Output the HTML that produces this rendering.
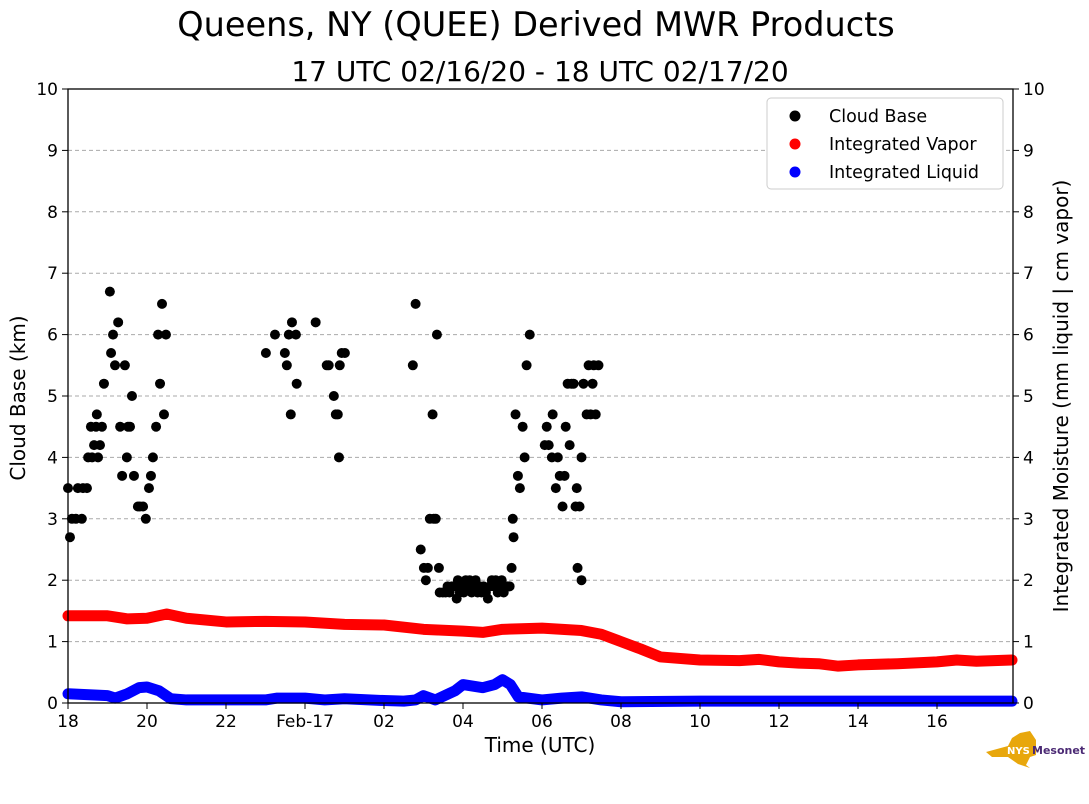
<!DOCTYPE html>
<html><head><meta charset="utf-8"><style>
body{margin:0;background:#fff;}
svg{display:block;font-family:"DejaVu Sans","Liberation Sans",sans-serif;}
</style></head><body>
<svg id="chart" width="1089" height="804">
<text x="536" y="36" font-size="33.5" text-anchor="middle">Queens, NY (QUEE) Derived MWR Products</text>
<text x="540" y="81" font-size="28" text-anchor="middle">17 UTC 02/16/20 - 18 UTC 02/17/20</text>
<g id="grid"></g><g id="series"></g><g id="axes"></g>
<text transform="translate(25,398) rotate(-90)" font-size="20" text-anchor="middle">Cloud Base (km)</text>
<text transform="translate(1068,396) rotate(-90)" font-size="20" text-anchor="middle">Integrated Moisture (mm liquid | cm vapor)</text>
<text x="540" y="752" font-size="20" text-anchor="middle">Time (UTC)</text>
<g>
<rect x="767" y="98" width="236" height="91" rx="4" fill="#fff" stroke="#ccc"/>
<circle cx="795" cy="116" r="5.5" fill="#000"/><text x="829" y="122" font-size="17.5">Cloud Base</text>
<circle cx="795" cy="144" r="5.5" fill="red"/><text x="829" y="150" font-size="17.5">Integrated Vapor</text>
<circle cx="795" cy="172" r="5.5" fill="blue"/><text x="829" y="178" font-size="17.5">Integrated Liquid</text>
</g>
<g>
<path d="M986,752 L1008,746 L1012,738 L1020,733 L1030,731 L1036,740 L1036,755 L1030,757 L1026,765 L1030,768 L1018,764 L1008,757 L992,757 Z" fill="#e8a70c"/>
<text x="1007" y="754" font-size="10" font-weight="bold" fill="#fff">NYS</text>
<text x="1032" y="754" font-size="11" font-weight="bold" fill="#4b2a74">Mesonet</text>
</g>
</svg>
<script>
const cbTime=[0,.05,.1,.2,.25,.35,.38,.48,.51,.58,.61,.66,.71,.73,.76,.81,.86,.91,1.06,1.09,1.14,1.19,1.27,1.32,1.37,1.44,1.49,1.52,1.57,1.62,1.67,1.77,1.82,1.9,1.97,2.05,2.1,2.15,2.23,2.28,2.33,2.38,2.43,2.48,
5.01,5.24,5.49,5.54,5.59,5.64,5.67,5.77,5.79,6.27,6.55,6.6,6.73,6.78,6.83,6.86,6.88,6.93,7.01,
8.73,8.8,8.93,9.01,9.06,9.11,9.16,9.23,9.26,9.31,9.34,9.39,
9.41,9.49,9.56,9.61,9.66,9.72,9.79,9.84,9.87,9.92,9.97,10.02,10.07,10.12,10.17,10.22,10.27,10.32,10.37,10.42,10.47,10.52,10.58,10.63,10.68,10.73,10.78,10.83,10.88,10.93,10.98,11.03,11.08,11.13,11.18,
11.23,11.26,11.28,11.33,11.39,11.44,11.51,11.56,11.61,11.69,12.07,12.12,12.17,12.25,12.27,12.35,12.4,12.45,12.52,12.57,12.6,12.65,12.7,12.75,12.8,12.85,12.88,12.9,12.95,13.0,13.0,13.05,13.13,13.18,13.23,13.28,13.31,13.36,13.43];
const cbVal=[3.5,2.7,3.0,3.0,3.5,3.0,3.5,3.5,4.0,4.5,4.0,4.2,4.5,4.7,4.0,4.2,4.5,5.2,6.7,5.7,6.0,5.5,6.2,4.5,3.7,5.5,4.0,4.5,4.5,5.0,3.7,3.2,3.2,3.2,3.0,3.5,3.7,4.0,4.5,6.0,5.2,6.5,4.7,6.0,
5.7,6.0,5.7,5.5,6.0,4.7,6.2,6.0,5.2,6.2,5.5,5.5,5.0,4.7,4.7,4.0,5.5,5.7,5.7,
5.5,6.5,2.5,2.2,2.0,2.2,3.0,4.7,3.0,3.0,6.0,2.2,
1.8,1.8,1.8,1.9,1.8,1.9,1.9,1.7,2.0,1.8,1.9,1.8,2.0,1.9,2.0,1.8,1.9,2.0,1.8,1.9,1.8,1.9,1.8,1.7,1.9,2.0,1.9,2.0,1.8,1.9,2.0,1.8,1.9,1.9,1.9,
2.2,3.0,2.7,4.7,3.7,3.5,4.5,4.0,5.5,6.0,4.2,4.5,4.2,4.0,4.7,3.5,4.0,3.7,3.2,3.7,4.5,5.2,4.2,5.2,5.2,3.2,3.5,2.2,3.2,2.0,4.0,5.2,4.7,5.5,4.7,5.2,5.5,4.7,5.5];
const vapTime=[0,1,1.5,2,2.5,3,4,5,6,7,8,9,10,10.5,11,12,13,13.5,14,14.5,15,16,17,17.5,18,18.5,19,19.5,20,21,22,22.5,23,23.9];
const vapVal=[1.42,1.42,1.37,1.38,1.45,1.38,1.32,1.33,1.32,1.28,1.27,1.2,1.17,1.15,1.2,1.22,1.18,1.12,1.0,0.88,0.75,0.7,0.69,0.71,0.67,0.65,0.64,0.6,0.62,0.64,0.67,0.7,0.68,0.7];
const liqTime=[0,1,1.2,1.5,1.8,2,2.3,2.6,3,4,5,5.3,6,6.5,7,8,8.5,8.8,9,9.3,9.8,10,10.5,10.8,11,11.2,11.4,12,12.5,13,13.5,14,16,23.9];
const liqVal=[0.15,0.12,0.08,0.15,0.25,0.26,0.2,0.07,0.05,0.05,0.05,0.08,0.08,0.05,0.07,0.04,0.03,0.05,0.12,0.05,0.2,0.3,0.25,0.3,0.38,0.3,0.1,0.05,0.08,0.1,0.05,0.02,0.03,0.03];
const xTicks=[0,2,4,6,8,10,12,14,16,18,20,22];
const xTickLabels=["18","20","22","Feb-17","02","04","06","08","10","12","14","16"];
const yTicks=[0,1,2,3,4,5,6,7,8,9,10];
const NS="http://www.w3.org/2000/svg";
const L=68,R=1013,T=89,B=703;
const X=h=>L+h*39.5, Y=v=>B-v*(B-T)/10;
function mk(tag,attrs,parent){const e=document.createElementNS(NS,tag);for(const k in attrs)e.setAttribute(k,attrs[k]);parent.appendChild(e);return e;}
const grid=document.getElementById('grid'),ser=document.getElementById('series'),ax=document.getElementById('axes');
yTicks.forEach(v=>{
  if(v>0&&v<10){const g=mk('line',{x1:L,x2:R,y1:Y(v),y2:Y(v),stroke:'#aaa','stroke-dasharray':'4,3','stroke-width':1},grid);
  
  }
  [[L,-1,'end',-8],[R,1,'start',8]].forEach(([x0,d,anc,off])=>{
    mk('line',{x1:x0,x2:x0+d*6,y1:Y(v),y2:Y(v),stroke:'#000'},ax);
    const t=mk('text',{x:x0+off+d*2,y:Y(v)+6,'font-size':17,'text-anchor':anc},ax);t.textContent=v;
    
    
  });
});
xTicks.forEach((h,i)=>{
  mk('line',{x1:X(h),x2:X(h),y1:B,y2:B+6,stroke:'#000'},ax);
  const t=mk('text',{x:X(h),y:B+24,'font-size':17,'text-anchor':'middle'},ax);t.textContent=xTickLabels[i];
  
  
});
mk('rect',{x:L,y:T,width:R-L,height:B-T,fill:'none',stroke:'#000','stroke-width':1.3},ax);
function line(ts,vs,col,name){
  const p=mk('polyline',{points:ts.map((t,i)=>X(t)+','+Y(vs[i])).join(' '),fill:'none',stroke:col,'stroke-width':11,'stroke-linecap':'round','stroke-linejoin':'round'},ser);
  
  
}
line(vapTime,vapVal,'red','integrated-vapor-series');
line(liqTime,liqVal,'blue','integrated-liquid-series');
cbTime.forEach((t,i)=>{
  const c=mk('circle',{cx:X(t),cy:Y(cbVal[i]),r:5,fill:'#000'},ser);
  
  
});
</script>
</body></html>
